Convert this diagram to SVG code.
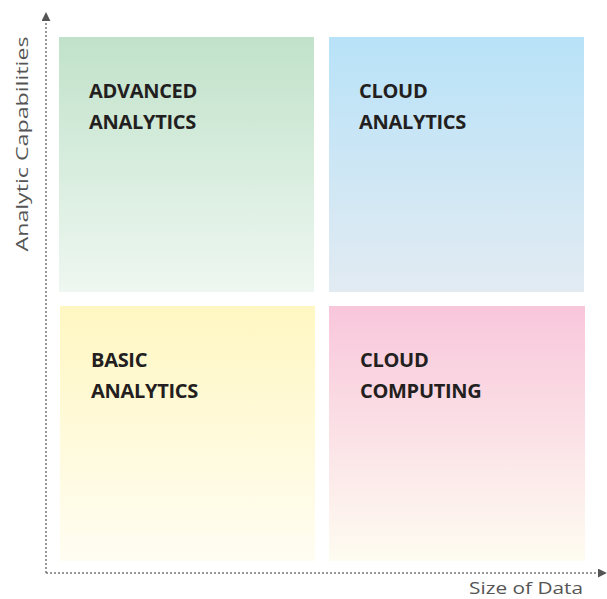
<svg xmlns="http://www.w3.org/2000/svg" width="607" height="599" viewBox="0 0 607 599">
<defs>
<linearGradient id="gGreen" x1="0" y1="0" x2="0" y2="1"><stop offset="0" stop-color="#c1e2ca"/><stop offset="1" stop-color="#eef7f1"/></linearGradient>
<linearGradient id="gBlue" x1="0" y1="0" x2="0" y2="1"><stop offset="0" stop-color="#b8e2f8"/><stop offset="1" stop-color="#e2ebf2"/></linearGradient>
<linearGradient id="gYellow" x1="0" y1="0" x2="0" y2="1"><stop offset="0" stop-color="#fff7c2"/><stop offset="1" stop-color="#fffdf2"/></linearGradient>
<linearGradient id="gPink" x1="0" y1="0" x2="0" y2="1"><stop offset="0" stop-color="#f8c6db"/><stop offset="1" stop-color="#fefcf1"/></linearGradient>
<marker id="arr" viewBox="0 0 10 10" refX="9" refY="5" markerWidth="9" markerHeight="9" markerUnits="userSpaceOnUse" orient="auto"><path d="M0,0 L10,5 L0,10 z" fill="#555"/></marker>
</defs>
<style>
.lbl{font-family:"Open Sans","Liberation Sans",sans-serif;font-weight:bold;font-size:20px;fill:#231f20;letter-spacing:-0.3px}
.ax{font-family:"Open Sans","Liberation Sans",sans-serif;font-size:17px;fill:#555}
.axis{stroke:#777;stroke-width:1.5;stroke-dasharray:2 2;fill:none}
</style>
<g id="connectors">
<path class="axis" d="M46,573 L46,13" marker-end="url(#arr)"/>
<path class="axis" d="M46,573 L606,573" marker-end="url(#arr)"/>
</g>
<g id="advanced">
<rect x="59" y="37" width="255" height="255" fill="url(#gGreen)"/>
<text class="lbl" x="89" y="98">ADVANCED</text>
<text class="lbl" x="89" y="129">ANALYTICS</text>
</g>
<g id="cloud-analytics">
<rect x="329" y="37" width="255" height="255" fill="url(#gBlue)"/>
<text class="lbl" x="359" y="98">CLOUD</text>
<text class="lbl" x="359" y="129">ANALYTICS</text>
</g>
<g id="basic">
<rect x="60" y="306" width="255" height="255" fill="url(#gYellow)"/>
<text class="lbl" x="91" y="367">BASIC</text>
<text class="lbl" x="91" y="398">ANALYTICS</text>
</g>
<g id="cloud-computing">
<rect x="329" y="306" width="256" height="255" fill="url(#gPink)"/>
<text class="lbl" x="360" y="367">CLOUD</text>
<text class="lbl" x="360" y="398">COMPUTING</text>
</g>
<text class="ax" x="583" y="594" text-anchor="end" textLength="114" lengthAdjust="spacingAndGlyphs">Size of Data</text>
<text class="ax" transform="translate(28,144) rotate(-90)" text-anchor="middle" textLength="215" lengthAdjust="spacingAndGlyphs">Analytic Capabilities</text>
</svg>
